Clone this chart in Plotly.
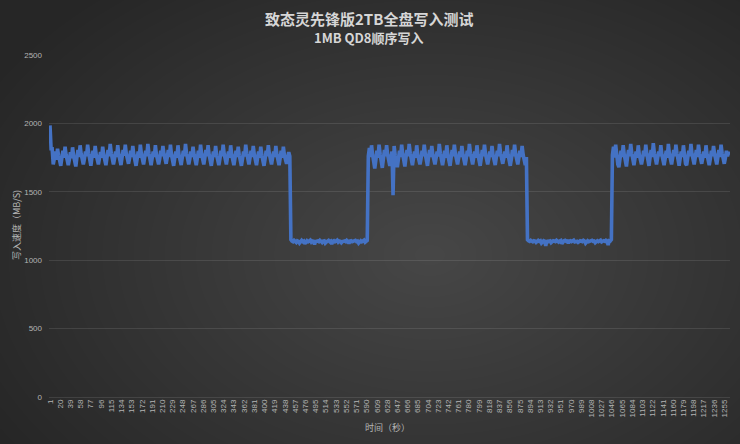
import plotly.graph_objects as go

# ---- data (MB/s), sampled every 2 seconds ----
phase_start_s = [1, 449, 593, 889, 1047]

speed_phase1 = [
    1985, 1815, 1815, 1700,
    1740, 1795, 1735, 1815, 1765, 1705, 1690,
    1745, 1800, 1750, 1830, 1770, 1710, 1695,
    1735, 1790, 1745, 1825, 1760, 1700, 1685,
    1750, 1805, 1755, 1840, 1775, 1715, 1700,
    1740, 1795, 1760, 1845, 1780, 1710, 1690,
    1750, 1800, 1750, 1835, 1770, 1715, 1700,
    1745, 1790, 1750, 1830, 1765, 1705, 1695,
    1750, 1805, 1760, 1850, 1780, 1720, 1700,
    1740, 1795, 1755, 1840, 1770, 1710, 1695,
    1750, 1805, 1765, 1845, 1775, 1720, 1705,
    1745, 1800, 1755, 1835, 1770, 1710, 1690,
    1740, 1795, 1750, 1845, 1775, 1715, 1700,
    1750, 1800, 1760, 1850, 1780, 1715, 1695,
    1745, 1795, 1755, 1840, 1770, 1710, 1700,
    1740, 1800, 1760, 1835, 1775, 1720, 1705,
    1750, 1805, 1755, 1845, 1770, 1710, 1690,
    1745, 1795, 1750, 1840, 1765, 1705, 1695,
    1750, 1800, 1760, 1850, 1780, 1715, 1700,
    1740, 1795, 1755, 1830, 1770, 1710, 1695,
    1745, 1800, 1750, 1845, 1775, 1720, 1700,
    1750, 1805, 1760, 1840, 1770, 1710, 1690,
    1745, 1795, 1755, 1835, 1765, 1705, 1695,
    1740, 1800, 1760, 1845, 1775, 1715, 1700,
    1750, 1795, 1750, 1840, 1770, 1710, 1695,
    1745, 1800, 1755, 1830, 1765, 1705, 1690,
    1740, 1795, 1760, 1845, 1780, 1715, 1700,
    1750, 1800, 1755, 1835, 1770, 1710, 1695,
    1745, 1795, 1750, 1830, 1765, 1705, 1690,
    1740, 1800, 1760, 1840, 1775, 1715, 1700,
    1750, 1795, 1755, 1835, 1770, 1710, 1695,
    1745, 1800, 1750, 1830, 1765, 1720, 1705,
    1750, 1790, 1760,
]

speed_phase2 = [
    1150, 1140, 1135, 1145, 1140, 1130, 1142, 1138,
    1125, 1140, 1145, 1136, 1140, 1120, 1138, 1142,
    1135, 1140, 1146, 1132, 1140, 1138, 1115, 1136,
    1142, 1140, 1135, 1145, 1138, 1130, 1140, 1142,
    1125, 1138, 1140, 1145, 1136, 1140, 1118, 1138,
    1142, 1135, 1140, 1146, 1132, 1140, 1138, 1128,
    1136, 1142, 1140, 1135, 1145, 1138, 1122, 1140,
    1142, 1135, 1138, 1140, 1145, 1136, 1140, 1125,
    1138, 1142, 1135, 1140, 1146, 1132, 1140, 1145,
]

speed_phase3 = [
    1760, 1820, 1755, 1840, 1770, 1700, 1670,
    1730, 1800, 1750, 1845, 1775, 1705, 1675,
    1740, 1805, 1760, 1840, 1770, 1710, 1690,
    1745, 1795, 1475, 1835, 1765, 1705, 1680,
    1740, 1800, 1755, 1845, 1775, 1700, 1685,
    1750, 1805, 1760, 1850, 1780, 1715, 1695,
    1745, 1795, 1750, 1840, 1770, 1710, 1700,
    1740, 1800, 1760, 1845, 1775, 1705, 1690,
    1750, 1805, 1755, 1835, 1770, 1715, 1700,
    1745, 1795, 1760, 1850, 1780, 1710, 1695,
    1740, 1800, 1750, 1840, 1765, 1705, 1690,
    1750, 1805, 1760, 1845, 1775, 1720, 1700,
    1745, 1795, 1755, 1835, 1770, 1710, 1695,
    1740, 1800, 1760, 1850, 1780, 1715, 1700,
    1750, 1795, 1750, 1840, 1770, 1705, 1690,
    1745, 1805, 1760, 1845, 1775, 1715, 1700,
    1740, 1795, 1755, 1835, 1765, 1710, 1695,
    1750, 1800, 1760, 1850, 1780, 1720, 1705,
    1745, 1795, 1750, 1840, 1770, 1710, 1690,
    1740, 1805, 1760, 1845, 1775, 1715, 1700,
    1750, 1800, 1755, 1835, 1770, 1710, 1695,
    1755,
]

speed_phase4 = [
    1150, 1142, 1138, 1145, 1140, 1135, 1142, 1140,
    1130, 1140, 1145, 1138, 1142, 1125, 1140, 1142,
    1138, 1105, 1146, 1135, 1140, 1142, 1128, 1138,
    1142, 1140, 1136, 1145, 1140, 1132, 1140, 1144,
    1120, 1138, 1142, 1145, 1138, 1140, 1125, 1140,
    1142, 1136, 1140, 1146, 1134, 1140, 1138, 1130,
    1138, 1142, 1140, 1136, 1145, 1140, 1124, 1140,
    1142, 1136, 1140, 1142, 1145, 1138, 1140, 1128,
    1140, 1142, 1136, 1140, 1146, 1134, 1140, 1142,
    1138, 1145, 1140, 1110, 1142, 1140, 1150,
]

speed_phase5 = [
    1770, 1830, 1750, 1845, 1765, 1700, 1680,
    1740, 1800, 1755, 1840, 1770, 1705, 1685,
    1750, 1805, 1760, 1850, 1780, 1715, 1695,
    1745, 1795, 1750, 1840, 1770, 1710, 1700,
    1740, 1800, 1760, 1845, 1775, 1705, 1690,
    1750, 1805, 1755, 1855, 1780, 1720, 1700,
    1745, 1795, 1760, 1840, 1770, 1710, 1695,
    1740, 1800, 1750, 1850, 1775, 1715, 1700,
    1750, 1805, 1760, 1845, 1780, 1710, 1690,
    1745, 1795, 1755, 1840, 1770, 1705, 1695,
    1740, 1800, 1760, 1850, 1775, 1715, 1700,
    1750, 1805, 1755, 1845, 1780, 1720, 1705,
    1745, 1795, 1750, 1840, 1770, 1710, 1695,
    1740, 1800, 1760, 1835, 1775, 1715, 1700,
    1750, 1805, 1755, 1845, 1780, 1720, 1705,
    1745, 1800, 1760, 1790, 1770,
]

sample_step_s = 2
x_tick_values = list(range(1, 1256, 19))
x_tick_labels = [str(v) for v in x_tick_values]

title_text = "致态灵先锋版2TB全盘写入测试"
subtitle_text = "1MB QD8顺序写入"
x_title = "时间（秒）"
y_title = "写入速度（MB/S)"

# ---- assemble series ----
phases = [speed_phase1, speed_phase2, speed_phase3, speed_phase4, speed_phase5]
xs, ys = [], []
for start, seg in zip(phase_start_s, phases):
    xs.extend(range(start, start + sample_step_s * len(seg), sample_step_s))
    ys.extend(seg)

# ---- layout geometry (pixels) ----
W, H = 740, 444
L, R, T, B = 49, 10, 55, 47
pw, ph = W - L - R, H - T - B
px_per_s = 0.5377


def px2x(px):
    return (px - L) / pw


def py2y(py):
    return (H - B - py) / ph


fig = go.Figure()
fig.add_trace(go.Scatter(
    x=xs, y=ys, mode="lines",
    line=dict(color="#4472C4", width=3.6),
    hoverinfo="skip",
))

# radial-ish background glow
shapes = []
cx, cy = 430, 255
rx_max, ry_max = 500, 340
N = 32
for i in range(N):
    f = 1 - i / N
    rx, ry = rx_max * f, ry_max * f
    shapes.append(dict(
        type="circle", xref="paper", yref="paper", layer="below",
        x0=px2x(cx - rx), x1=px2x(cx + rx),
        y0=py2y(cy + ry), y1=py2y(cy - ry),
        fillcolor="rgba(255,255,255,0.0075)", line=dict(width=0),
    ))

x_left = 1 - (50 - L) / px_per_s
x_right = x_left + pw / px_per_s

grid_col = "rgba(255,255,255,0.10)"
tick_font = dict(family="Liberation Sans, Noto Sans, sans-serif", size=8, color="#b4b4b4")

fig.update_layout(
    width=W, height=H,
    margin=dict(l=L, r=R, t=T, b=B, pad=0),
    paper_bgcolor="#262626",
    plot_bgcolor="rgba(0,0,0,0)",
    showlegend=False,
    shapes=shapes,
    xaxis=dict(
        range=[x_left, x_right], tickmode="array",
        tickvals=x_tick_values, ticktext=x_tick_labels,
        tickangle=-90, tickfont=tick_font,
        showgrid=False, zeroline=False, showline=False, ticks="",
    ),
    yaxis=dict(
        range=[0, 2500], dtick=500, tickfont=tick_font,
        showgrid=True, gridcolor=grid_col, gridwidth=1,
        zeroline=True, zerolinecolor=grid_col, zerolinewidth=1,
        showline=False, ticks="", ticklabelstandoff=6,
    ),
    annotations=[
        dict(text="<b>" + title_text + "</b>", xref="paper", yref="paper",
             x=px2x(369), y=py2y(18), showarrow=False,
             font=dict(family="Noto Sans CJK SC", size=15, color="#d6d6d6"),
             xanchor="center", yanchor="middle"),
        dict(text="<b>" + subtitle_text + "</b>", xref="paper", yref="paper",
             x=px2x(369), y=py2y(38), showarrow=False,
             font=dict(family="Noto Sans CJK SC", size=13, color="#d6d6d6"),
             xanchor="center", yanchor="middle"),
        dict(text=x_title, xref="paper", yref="paper",
             x=px2x(387), y=py2y(428), showarrow=False,
             font=dict(family="Noto Sans CJK SC", size=9, color="#b4b4b4"),
             xanchor="center", yanchor="middle"),
        dict(text=y_title, xref="paper", yref="paper",
             x=px2x(16), y=py2y(225), showarrow=False, textangle=-90,
             font=dict(family="Noto Sans CJK SC", size=9, color="#b4b4b4"),
             xanchor="center", yanchor="middle"),
    ],
)

fig.write_html("out.html", config={"displayModeBar": False},
               post_script="document.body.style.margin='0';")
